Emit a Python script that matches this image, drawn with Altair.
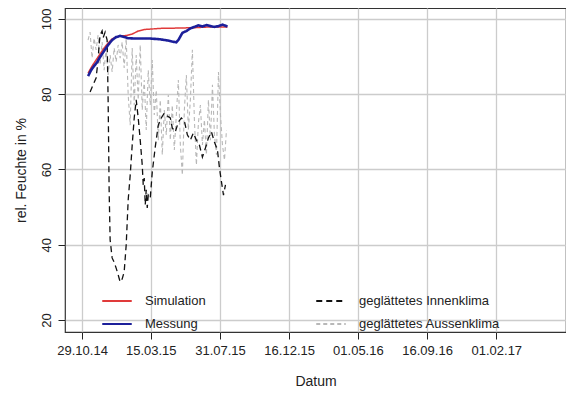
import altair as alt
import pandas as pd

SERIES = ["Simulation", "Messung", "geglättetes Innenklima", "geglättetes Aussenklima"]
COLORS = ["#e03a3a", "#1c1f9a", "#111111", "#b8b8b8"]
DASHES = [[1, 0], [1, 0], [6, 4], [4, 3]]

sim_dates = ["2014-11-10", "2014-11-18", "2014-11-26", "2014-12-04", "2014-12-12", "2014-12-20",
             "2014-12-28", "2015-01-05", "2015-01-13", "2015-01-25", "2015-02-06", "2015-02-18",
             "2015-03-02", "2015-04-03", "2015-05-13", "2015-06-12", "2015-07-12", "2015-08-15"]
sim_vals = [85.6, 87.5, 89.1, 90.7, 92.3, 93.6, 94.7, 95.2, 95.5, 95.6, 96.0, 96.8,
            97.2, 97.5, 97.6, 97.7, 97.9, 97.9]

mes_dates = ["2014-11-10", "2014-11-16", "2014-11-22", "2014-11-28", "2014-12-04", "2014-12-12",
             "2014-12-20", "2014-12-28", "2015-01-05", "2015-01-13", "2015-01-21", "2015-01-29",
             "2015-02-12", "2015-03-04", "2015-03-14", "2015-04-03", "2015-04-17", "2015-04-27",
             "2015-05-05", "2015-05-09", "2015-05-17", "2015-05-25", "2015-06-02", "2015-06-10",
             "2015-06-18", "2015-06-26", "2015-07-04", "2015-07-12", "2015-07-20", "2015-07-28",
             "2015-08-05", "2015-08-15"]
mes_vals = [84.8, 86.4, 87.5, 88.5, 89.9, 91.5, 93.1, 94.4, 95.2, 95.5, 95.2, 94.9,
            94.8, 94.8, 94.8, 94.6, 94.3, 94.0, 93.8, 94.4, 96.3, 96.8, 97.5, 97.9,
            98.3, 98.0, 98.4, 98.1, 97.9, 98.1, 98.5, 98.0]

inn_dates = ["2014-11-14", "2014-11-20", "2014-11-26", "2014-11-30", "2014-12-02", "2014-12-04",
             "2014-12-08", "2014-12-10", "2014-12-14", "2014-12-18", "2014-12-20", "2014-12-22",
             "2014-12-24", "2014-12-28", "2015-01-01", "2015-01-05", "2015-01-09", "2015-01-13",
             "2015-01-17", "2015-01-21", "2015-01-25", "2015-01-29", "2015-02-02", "2015-02-06",
             "2015-02-10", "2015-02-14", "2015-02-18", "2015-02-22", "2015-02-26", "2015-02-28",
             "2015-03-02", "2015-03-04", "2015-03-06", "2015-03-08", "2015-03-10", "2015-03-14",
             "2015-03-18", "2015-03-24", "2015-03-30", "2015-04-05", "2015-04-11", "2015-04-17",
             "2015-04-23", "2015-04-27", "2015-05-03", "2015-05-09", "2015-05-15", "2015-05-21",
             "2015-05-27", "2015-06-02", "2015-06-08", "2015-06-14", "2015-06-20", "2015-06-26",
             "2015-07-02", "2015-07-08", "2015-07-14", "2015-07-20", "2015-07-26", "2015-07-30",
             "2015-08-03", "2015-08-07", "2015-08-11"]
inn_vals = [80.6, 82.5, 84.3, 89.1, 93.1, 95.7, 96.8, 95.0, 96.5, 94.4, 78.5, 54.6,
            41.3, 36.5, 35.4, 33.8, 32.0, 30.1, 30.9, 32.8, 39.9, 51.9, 58.5, 66.5,
            73.7, 78.5, 73.7, 67.8, 61.2, 55.9, 57.7, 50.6, 54.6, 49.8, 53.2, 52.4,
            59.3, 66.0, 71.8, 73.7, 75.0, 74.2, 73.7, 71.0, 70.0, 72.6, 73.7, 72.9,
            69.2, 67.8, 69.7, 67.8, 66.5, 63.3, 65.7, 68.4, 70.0, 67.3, 65.2, 60.4,
            56.7, 53.2, 55.9]

aus_dates = ["2014-11-10", "2014-11-14", "2014-11-18", "2014-11-22", "2014-11-26", "2014-11-30",
             "2014-12-04", "2014-12-08", "2014-12-12", "2014-12-16", "2014-12-20", "2014-12-24",
             "2014-12-28", "2015-01-01", "2015-01-05", "2015-01-09", "2015-01-13", "2015-01-17",
             "2015-01-21", "2015-01-25", "2015-01-29", "2015-02-02", "2015-02-06", "2015-02-10",
             "2015-02-14", "2015-02-18", "2015-02-22", "2015-02-26", "2015-03-02", "2015-03-06",
             "2015-03-10", "2015-03-14", "2015-03-18", "2015-03-22", "2015-03-26", "2015-03-30",
             "2015-04-03", "2015-04-07", "2015-04-11", "2015-04-15", "2015-04-19", "2015-04-23",
             "2015-04-27", "2015-05-01", "2015-05-05", "2015-05-09", "2015-05-13", "2015-05-17",
             "2015-05-21", "2015-05-25", "2015-05-29", "2015-06-02", "2015-06-06", "2015-06-10",
             "2015-06-14", "2015-06-18", "2015-06-22", "2015-06-26", "2015-06-30", "2015-07-04",
             "2015-07-08", "2015-07-12", "2015-07-16", "2015-07-20", "2015-07-24", "2015-07-28",
             "2015-08-01", "2015-08-05", "2015-08-09", "2015-08-13"]
aus_vals = [94.4, 96.5, 89.6, 94.9, 91.8, 95.7, 87.8, 93.9, 86.4, 92.3, 85.1, 90.4,
            85.9, 92.3, 88.6, 93.1, 89.6, 93.9, 87.0, 94.9, 79.8, 71.8, 92.3, 77.1,
            90.4, 78.5, 93.1, 75.8, 83.8, 70.5, 86.4, 77.1, 89.1, 74.5, 81.1, 67.8,
            78.5, 63.9, 75.8, 69.2, 79.8, 67.8, 77.1, 65.2, 74.5, 83.8, 66.5, 58.5,
            75.8, 85.1, 70.5, 78.5, 91.8, 73.2, 61.2, 72.4, 77.1, 66.5, 73.2, 63.9,
            78.5, 67.8, 82.5, 69.2, 63.9, 85.9, 74.5, 66.5, 62.5, 70.5]

x_ticks = [(2014, 10, 29), (2015, 3, 15), (2015, 7, 31), (2015, 12, 16),
           (2016, 5, 1), (2016, 9, 16), (2017, 2, 1)]
y_ticks = [20, 40, 60, 80, 100]


def frame(dates, vals, name):
    return pd.DataFrame({"date": dates, "value": vals, "series": name})


FONT = "Liberation Sans"

leg = alt.Legend(
    title=None, orient="none", legendX=36, legendY=277, columns=2,
    columnPadding=106, rowPadding=-8, symbolType="stroke", symbolSize=870,
    symbolStrokeWidth=2, labelFontSize=13, labelFont=FONT, labelColor="#222222",
    labelOffset=12, fillColor="transparent", strokeColor="transparent",
)

x_enc = alt.X(
    "date:T",
    scale=alt.Scale(type="utc", domain=[alt.DateTime(year=2014, month=9, date=25, utc=True),
                                        alt.DateTime(year=2017, month=6, date=20, utc=True)]),
    axis=alt.Axis(values=[alt.DateTime(year=y, month=m, date=d, utc=True) for y, m, d in x_ticks],
                  format="%d.%m.%y", title="Datum"),
)
y_enc = alt.Y(
    "value:Q",
    scale=alt.Scale(domain=[16.81, 102.92], nice=False, zero=False),
    axis=alt.Axis(values=y_ticks, title="rel. Feuchte in %", labelAngle=270,
                  labelAlign="center", labelBaseline="bottom"),
)
color_enc = alt.Color("series:N", scale=alt.Scale(domain=SERIES, range=COLORS), legend=leg)
dash_enc = alt.StrokeDash("series:N", scale=alt.Scale(domain=SERIES, range=DASHES), legend=leg)


def layer(df, width):
    return alt.Chart(df).mark_line(strokeWidth=width, clip=True).encode(
        x=x_enc, y=y_enc, color=color_enc, strokeDash=dash_enc
    )


chart = alt.layer(
    layer(frame(aus_dates, aus_vals, "geglättetes Aussenklima"), 1.1),
    layer(frame(inn_dates, inn_vals, "geglättetes Innenklima"), 1.3),
    layer(frame(sim_dates, sim_vals, "Simulation"), 1.5),
    layer(frame(mes_dates, mes_vals, "Messung"), 2.6),
).properties(
    width=501, height=324,
    autosize=alt.AutoSizeParams(type="none"),
    padding={"left": 57, "top": 0, "right": 0, "bottom": 56},
).configure_view(
    stroke="#333333", strokeWidth=1.2
).configure_axis(
    grid=True, gridColor="#cccccc", gridWidth=1.3, domain=False,
    tickColor="#222222", tickSize=7, tickWidth=1,
    labelFont=FONT, labelFontSize=13, labelColor="#222222", labelPadding=5,
    titleFont=FONT, titleFontSize=14, titleFontWeight="normal", titleColor="#222222",
).configure_axisX(
    titlePadding=17, labelFlush=False
).configure_axisY(
    titlePadding=12
)

chart.save("out.html", embed_options={"renderer": "svg", "actions": False})
